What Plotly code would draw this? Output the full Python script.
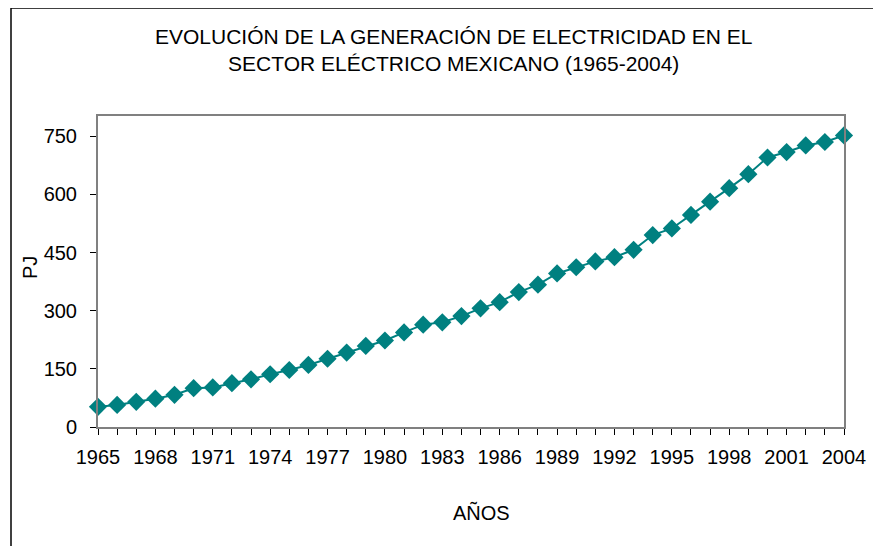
import plotly.graph_objects as go

years = list(range(1965, 2005))
pj = [52, 57, 65, 73, 83, 100, 102, 113, 123, 136,
      147, 160, 176, 192, 209, 223, 244, 264, 270, 286,
      306, 322, 348, 367, 396, 412, 427, 438, 457, 495,
      512, 547, 581, 616, 652, 695, 709, 726, 735, 752]
y_ticks = [0, 150, 300, 450, 600, 750]

title_text = "EVOLUCIÓN DE LA GENERACIÓN DE ELECTRICIDAD EN EL<br>SECTOR ELÉCTRICO MEXICANO (1965-2004)"
x_title = "AÑOS"
y_title = "PJ"
teal = "#008080"
font_family = "Liberation Sans, Arial, sans-serif"

# page has an 8px body margin, so work in figure coordinates offset by 8
OFF = 8
W, H = 881 - OFF, 546 - OFF
L, R, T, B = 98 - OFF, 881 - 844, 116 - OFF, 546 - 427
pw = W - L - R
ph = H - T - B

def px2x(px):
    return (px - OFF - L) / pw

def py2y(py):
    return (H - B - (py - OFF)) / ph

fig = go.Figure()
fig.add_trace(go.Scatter(
    x=years, y=pj, mode="lines+markers",
    line=dict(color=teal, width=2),
    marker=dict(symbol="diamond", size=14, color=teal),
    cliponaxis=False, showlegend=False,
))

fig.update_layout(
    width=W, height=H, autosize=False,
    margin=dict(l=L, r=R, t=T, b=B),
    paper_bgcolor="white", plot_bgcolor="white",
    font=dict(family=font_family, size=20, color="black"),
    xaxis=dict(
        range=[1965, 2004], tickmode="linear", tick0=1965, dtick=3,
        ticks="outside", ticklen=6, tickcolor="black", tickwidth=1,
        minor=dict(tickmode="linear", tick0=1965, dtick=1, ticks="outside",
                   ticklen=6, tickcolor="black", tickwidth=1),
        showgrid=False, zeroline=False,
        showline=True, linecolor="#808080", linewidth=2, mirror=True,
        tickfont=dict(size=20), ticklabelstandoff=5,
    ),
    yaxis=dict(
        range=[0, 802], tickvals=y_ticks,
        ticks="outside", ticklen=6, tickcolor="black", tickwidth=1,
        showgrid=False, zeroline=False,
        showline=True, linecolor="#808080", linewidth=2, mirror=True,
        tickfont=dict(size=20), ticklabelstandoff=9,
    ),
    annotations=[
        dict(text=title_text, x=px2x(453), y=py2y(50), xref="paper", yref="paper",
             xanchor="center", yanchor="middle", showarrow=False,
             font=dict(size=21, family=font_family), align="center"),
        dict(text=x_title, x=px2x(481), y=py2y(513), xref="paper", yref="paper",
             xanchor="center", yanchor="middle", showarrow=False,
             font=dict(size=20, family=font_family)),
        dict(text=y_title, x=px2x(30), y=py2y(268), xref="paper", yref="paper",
             xanchor="center", yanchor="middle", showarrow=False, textangle=-90,
             font=dict(size=20, family=font_family)),
    ],
    shapes=[
        dict(type="line", xref="paper", yref="paper",
             x0=px2x(11), x1=px2x(11), y0=py2y(8), y1=py2y(560),
             line=dict(color="black", width=1.5)),
        dict(type="line", xref="paper", yref="paper",
             x0=px2x(11), x1=px2x(900), y0=py2y(8), y1=py2y(8),
             line=dict(color="black", width=1.5)),
    ],
)

fig.write_html("out.html")
